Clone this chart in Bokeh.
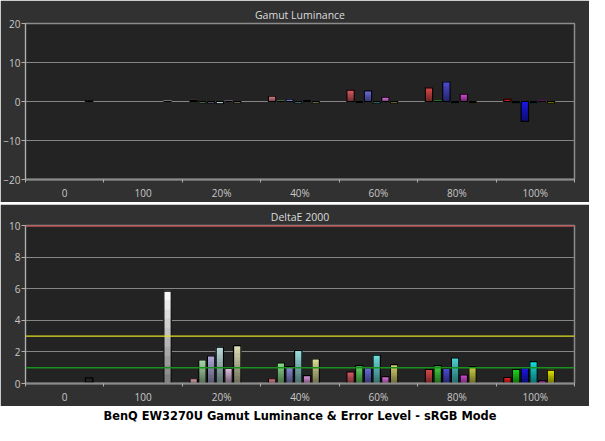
from bokeh.plotting import figure
from bokeh.models import Range1d, FixedTicker, CustomJSTickFormatter, Span, ColumnDataSource
from bokeh.layouts import column
from bokeh.embed import file_html
from bokeh.resources import INLINE
from bokeh.core.properties import value

# ---------------- data ----------------
groups = ["0", "100", "20%", "40%", "60%", "80%", "100%"]
patches = ["Red", "Green", "Blue", "Cyan", "Magenta", "Yellow"]

# Gamut luminance error (%)
lum_black = 0.1
lum_white = 0.1
lum_20 = [0.3, -0.4, -0.4, -0.6, 0.1, -0.4]
lum_40 = [1.4, 0.1, 0.6, -0.4, 0.2, -0.4]
lum_60 = [2.9, -0.2, 2.7, -0.4, 1.1, -0.4]
lum_80 = [3.5, 0.05, 5.0, -0.3, 1.9, -0.3]
lum_100 = [0.6, -0.3, -5.1, -0.3, 0.05, -0.4]

# DeltaE 2000
de_black = 0.35
de_white = 5.85
de_20 = [0.3, 1.5, 1.75, 2.3, 0.95, 2.4]
de_40 = [0.3, 1.3, 1.07, 2.1, 0.5, 1.56]
de_60 = [0.73, 1.13, 0.99, 1.8, 0.43, 1.2]
de_80 = [0.89, 1.13, 0.95, 1.62, 0.55, 1.09]
de_100 = [0.38, 0.89, 0.99, 1.38, 0.18, 0.84]

# reference thresholds
de_limits = [10, 3, 1]

# ---------------- styles ----------------
black_color = "#2a2a2a"
white_color = "#ffffff"
sat_colors = [
    ["#dca2aa", "#acdcac", "#b0aade", "#badede", "#e0bee0", "#e0e0ba"],
    ["#d87e88", "#8edc8e", "#8e8edc", "#9ae0e0", "#e09ae0", "#e0e09a"],
    ["#dc5e66", "#62dc62", "#6c6cdc", "#70e0e0", "#dc74dc", "#dcd474"],
    ["#dc4a4a", "#44d444", "#4c4cd4", "#4cd4d4", "#d44cd4", "#d4d44c"],
    ["#e42222", "#1adc1a", "#1a1ae4", "#1adcdc", "#b422b4", "#e4e400"],
]
BORDER = "#313131"
BG = "#232323"
GRID = "#858585"
TXT = "#c8c8c8"
FONT = "Open Sans"
SLOTS = 9
BAR_W = 0.85
NSLICE = 10


def hex2rgb(h):
    h = h.lstrip("#")
    return [int(h[i:i + 2], 16) for i in (0, 2, 4)]


def mix(c, f):
    r, g, b = hex2rgb(c)
    k = 0.48 + 0.52 * f
    return "#%02x%02x%02x" % (int(r * k), int(g * k), int(b * k))


def bar_list(v_black, v_white, sat_vals):
    bars = [(0 * SLOTS + 7.3, v_black, black_color), (1 * SLOTS + 7.3, v_white, white_color)]
    for gi, (vals, cols) in enumerate(zip(sat_vals, sat_colors)):
        for k, (v, c) in enumerate(zip(vals, cols)):
            bars.append(((gi + 2) * SLOTS + 1.3 + k, v, c))
    return bars


def draw_bars(p, bars):
    sl = dict(left=[], right=[], bottom=[], top=[], color=[])
    ol = dict(left=[], right=[], bottom=[], top=[])
    for x, v, c in bars:
        lo, hi = min(0, v), max(0, v)
        for i in range(NSLICE):
            sl["left"].append(x - BAR_W / 2)
            sl["right"].append(x + BAR_W / 2)
            sl["bottom"].append(lo + (hi - lo) * i / NSLICE)
            sl["top"].append(lo + (hi - lo) * (i + 1) / NSLICE)
            sl["color"].append(mix(c, (i + 0.5) / NSLICE))
        ol["left"].append(x - BAR_W / 2)
        ol["right"].append(x + BAR_W / 2)
        ol["bottom"].append(lo)
        ol["top"].append(hi)
    p.quad(left="left", right="right", bottom="bottom", top="top", fill_color="color",
           line_color="color", line_width=0.8, source=ColumnDataSource(sl))
    p.quad(left="left", right="right", bottom="bottom", top="top", fill_alpha=0,
           line_color="#000000", line_width=1.2, source=ColumnDataSource(ol))


def style(p, title, yticks, title_offset):
    p.background_fill_color = BG
    p.border_fill_color = BORDER
    p.outline_line_color = "#8c8c8c"
    p.outline_line_width = 1.5
    p.title.text = title
    p.title.align = "center"
    p.title.offset = title_offset
    p.title.text_color = "#dcdcdc"
    p.title.text_font = FONT
    p.title.text_font_size = "10.5px"
    p.title.text_font_style = "normal"
    p.title.standoff = 4
    p.xgrid.visible = False
    p.ygrid.grid_line_color = GRID
    p.ygrid.grid_line_width = 1

    xa = p.xaxis[0]
    xa.ticker = FixedTicker(ticks=[g * SLOTS + SLOTS / 2 for g in range(len(groups))],
                            minor_ticks=[g * SLOTS for g in range(len(groups) + 1)])
    xa.formatter = CustomJSTickFormatter(args=dict(labels=groups),
                                         code="return labels[Math.round((tick - 4.5) / 9)] || ''")
    xa.major_tick_line_color = None
    xa.major_tick_out = 0
    xa.major_tick_in = 0
    xa.minor_tick_line_color = "#b0b0b0"
    xa.minor_tick_out = 3
    xa.minor_tick_in = 0
    xa.axis_line_color = "#8c8c8c"
    xa.axis_line_width = 2
    xa.major_label_standoff = 3
    xa.major_label_text_color = TXT
    xa.major_label_text_font = FONT
    xa.major_label_text_font_size = "10px"

    ya = p.yaxis[0]
    ya.ticker = FixedTicker(ticks=yticks)
    ya.minor_tick_line_color = None
    ya.major_tick_out = 4
    ya.major_tick_in = 0
    ya.major_tick_line_color = "#b0b0b0"
    ya.axis_line_color = "#b0b0b0"
    ya.major_label_standoff = 1
    ya.major_label_text_color = TXT
    ya.major_label_text_font = FONT
    ya.major_label_text_font_size = "10px"


W = 589

# ---------------- top: gamut luminance ----------------
p1 = figure(width=W, height=202, x_range=Range1d(0, SLOTS * len(groups)), y_range=Range1d(-20, 20),
            output_backend="svg", toolbar_location=None,
            min_border_left=24, min_border_right=15, min_border_top=23, min_border_bottom=18)
style(p1, "Gamut Luminance", [-20, -10, 0, 10, 20], -10)
draw_bars(p1, bar_list(lum_black, lum_white, [lum_20, lum_40, lum_60, lum_80, lum_100]))

# ---------------- bottom: deltaE 2000 ----------------
p2 = figure(width=W, height=202, x_range=Range1d(0, SLOTS * len(groups)), y_range=Range1d(0, 10),
            output_backend="svg", toolbar_location=None,
            min_border_left=20, min_border_right=15, min_border_top=21, min_border_bottom=19)
style(p2, "DeltaE 2000", [0, 2, 4, 6, 8, 10], -8)
draw_bars(p2, bar_list(de_black, de_white, [de_20, de_40, de_60, de_80, de_100]))
for loc, col, w in zip(de_limits, ["#c04848", "#e0e020", "#1a901e"], [2.5, 1.3, 1.5]):
    p2.add_layout(Span(location=loc, dimension="width", line_color=col, line_width=w))

# ---------------- caption ----------------
p3 = figure(width=W, height=19, x_range=Range1d(0, 1), y_range=Range1d(0, 1),
            output_backend="svg", toolbar_location=None,
            x_axis_location=None, y_axis_location=None,
            min_border=0)
p3.background_fill_color = "#ffffff"
p3.border_fill_color = "#ffffff"
p3.outline_line_color = None
p3.xgrid.visible = False
p3.ygrid.visible = False
p3.text(x=[0.5], y=[0.5], text=["BenQ EW3270U Gamut Luminance & Error Level - sRGB Mode"],
        text_align="center", text_baseline="middle", text_color="#000000",
        text_font=value("DejaVu Sans"), text_font_style="bold", text_font_size="11.4px")

layout = column(p1, p2, p3, spacing=0)
p2.margin = (2, 0, 0, 0)

open("out.html", "w").write(file_html(layout, INLINE))
